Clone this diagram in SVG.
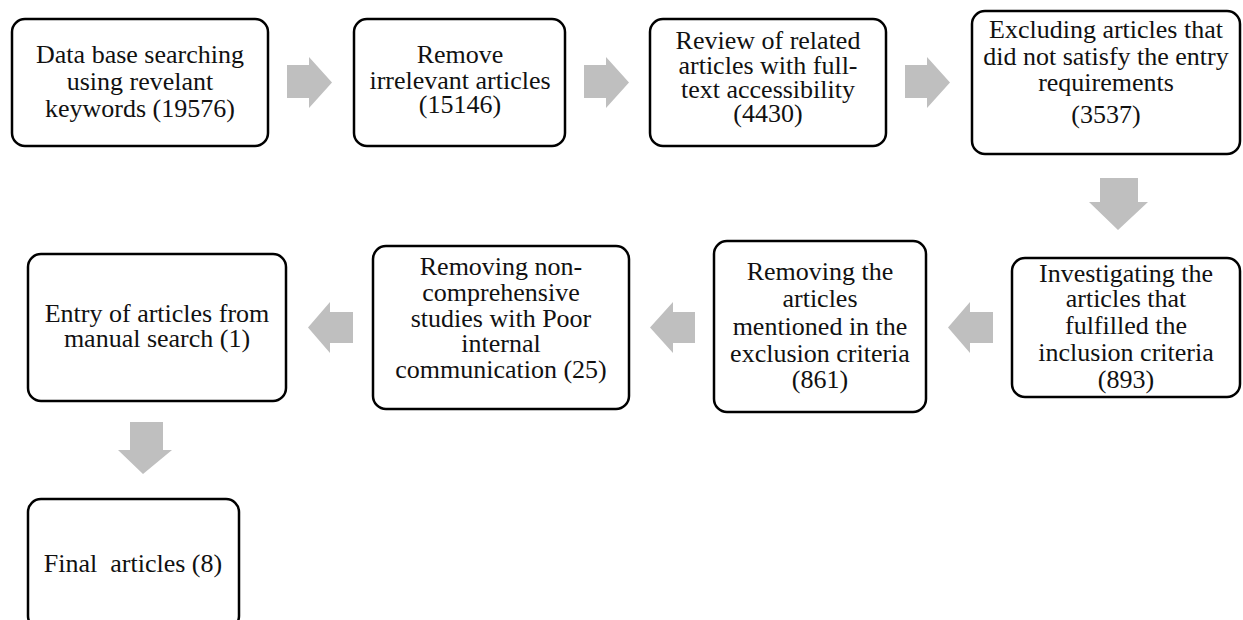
<svg xmlns="http://www.w3.org/2000/svg" width="1243" height="620" viewBox="0 0 1243 620">
<style>
.box{fill:#fff;stroke:#000;stroke-width:2.5}
.t{font-family:'Liberation Serif','Times New Roman',Times,'DejaVu Serif',serif;font-size:26px;fill:#111;text-anchor:middle}
.arr{fill:#bfbfbf}
</style>
<rect width="1243" height="620" fill="#fff"/>
<g id="connectors">
<polygon class="arr" points="287,65 309,65 309,57 332,82.5 309,108 309,98 287,98"/>
<polygon class="arr" points="584,65 606,65 606,57 629,82.5 606,108 606,98 584,98"/>
<polygon class="arr" points="905,65 927,65 927,57 950,82.5 927,108 927,98 905,98"/>
<polygon class="arr" points="1100,178 1138,178 1138,202 1148,202 1118,230 1089,202 1100,202"/>
<polygon class="arr" points="993,312 970,312 970,302 948,327.5 970,353 970,343 993,343"/>
<polygon class="arr" points="695,312 673,312 673,302 650,327.5 673,353 673,343 695,343"/>
<polygon class="arr" points="353,312 330,312 330,302 308,327.5 330,353 330,343 353,343"/>
<polygon class="arr" points="130,422 163,422 163,450 172,450 143,474 118,450 130,450"/>
</g>
<g id="n1">
<rect class="box" x="12" y="19" width="256" height="127" rx="13"/>
<text class="t" font-family="Liberation Serif, serif" x="140" y="63">Data base searching</text>
<text class="t" font-family="Liberation Serif, serif" x="140" y="90">using revelant</text>
<text class="t" font-family="Liberation Serif, serif" x="140" y="117">keywords (19576)</text>
</g>
<g id="n2">
<rect class="box" x="354" y="19" width="211" height="127" rx="13"/>
<text class="t" font-family="Liberation Serif, serif" x="460" y="63">Remove</text>
<text class="t" font-family="Liberation Serif, serif" x="460" y="89">irrelevant articles</text>
<text class="t" font-family="Liberation Serif, serif" x="460" y="113">(15146)</text>
</g>
<g id="n3">
<rect class="box" x="650" y="19" width="236" height="127" rx="13"/>
<text class="t" font-family="Liberation Serif, serif" x="768" y="49">Review of related</text>
<text class="t" font-family="Liberation Serif, serif" x="768" y="74">articles with full-</text>
<text class="t" font-family="Liberation Serif, serif" x="768" y="98">text accessibility</text>
<text class="t" font-family="Liberation Serif, serif" x="768" y="122">(4430)</text>
</g>
<g id="n4">
<rect class="box" x="972" y="11" width="268" height="143" rx="13"/>
<text class="t" font-family="Liberation Serif, serif" x="1106" y="38">Excluding articles that</text>
<text class="t" font-family="Liberation Serif, serif" x="1106" y="65">did not satisfy the entry</text>
<text class="t" font-family="Liberation Serif, serif" x="1106" y="91">requirements</text>
<text class="t" font-family="Liberation Serif, serif" x="1106" y="123">(3537)</text>
</g>
<g id="n5">
<rect class="box" x="1012" y="258" width="228" height="139" rx="13"/>
<text class="t" font-family="Liberation Serif, serif" x="1126" y="282">Investigating the</text>
<text class="t" font-family="Liberation Serif, serif" x="1126" y="307">articles that</text>
<text class="t" font-family="Liberation Serif, serif" x="1126" y="334">fulfilled the</text>
<text class="t" font-family="Liberation Serif, serif" x="1126" y="361">inclusion criteria</text>
<text class="t" font-family="Liberation Serif, serif" x="1126" y="388">(893)</text>
</g>
<g id="n6">
<rect class="box" x="714" y="241" width="212" height="171" rx="13"/>
<text class="t" font-family="Liberation Serif, serif" x="820" y="280">Removing the</text>
<text class="t" font-family="Liberation Serif, serif" x="820" y="307">articles</text>
<text class="t" font-family="Liberation Serif, serif" x="820" y="335">mentioned in the</text>
<text class="t" font-family="Liberation Serif, serif" x="820" y="362">exclusion criteria</text>
<text class="t" font-family="Liberation Serif, serif" x="820" y="388">(861)</text>
</g>
<g id="n7">
<rect class="box" x="373" y="246" width="256" height="163" rx="13"/>
<text class="t" font-family="Liberation Serif, serif" x="501" y="275">Removing non-</text>
<text class="t" font-family="Liberation Serif, serif" x="501" y="301">comprehensive</text>
<text class="t" font-family="Liberation Serif, serif" x="501" y="327">studies with Poor</text>
<text class="t" font-family="Liberation Serif, serif" x="501" y="352">internal</text>
<text class="t" font-family="Liberation Serif, serif" x="501" y="378">communication (25)</text>
</g>
<g id="n8">
<rect class="box" x="28" y="254" width="258" height="147" rx="13"/>
<text class="t" font-family="Liberation Serif, serif" x="157" y="322">Entry of articles from</text>
<text class="t" font-family="Liberation Serif, serif" x="157" y="347">manual search (1)</text>
</g>
<g id="n9">
<rect class="box" x="28" y="499" width="211" height="130" rx="13"/>
<text class="t" font-family="Liberation Serif, serif" x="133" y="572" style="white-space:pre">Final  articles (8)</text>
</g>
</svg>
